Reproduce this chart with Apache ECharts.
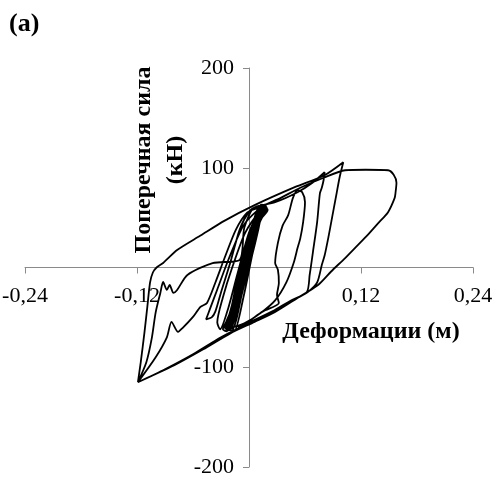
<!DOCTYPE html>
<html>
<head>
<meta charset="utf-8">
<script src="https://cdn.jsdelivr.net/npm/echarts@6/dist/echarts.min.js"></script>
<style>html,body{margin:0;padding:0;background:#fff}#c{width:497px;height:479px}</style>
</head>
<body>
<div id="c"></div>
<script>
// Axis ticks
var xTicks = [-0.24, -0.12, 0, 0.12, 0.24];
var yTicks = [-200, -100, 0, 100, 200];

// Hysteresis path segments: [deformation (m), shear force (kN)]
var centralLoops = [
  [0.000,0],
  [0.008,30],[0.012,50],[0.010,55],[0.004,40],[-0.006,0],[-0.014,-35],[-0.018,-50],[-0.015,-52],[-0.008,-25],[0.000,5],
  [0.008,38],[0.014,58],[0.011,60],[0.004,42],[-0.008,0],[-0.016,-38],[-0.022,-58],[-0.019,-60],[-0.010,-30],[0.000,5],
  [0.010,42],[0.016,60],[0.012,62],[0.003,40],[-0.010,-5],[-0.018,-42],[-0.024,-60],[-0.020,-62],[-0.012,-32],[-0.002,5],
  [0.008,40],[0.015,57],[0.012,59],[0.002,35],[-0.012,-10],[-0.020,-45],[-0.025,-58],[-0.021,-61],[-0.013,-35],[-0.003,0],
  [0.006,35],[0.013,55],[0.010,57],[0.000,30],[-0.011,-12],[-0.019,-48],[-0.023,-62],[-0.018,-63],[-0.010,-35],[0.000,5],
  [0.009,40],[0.017,58],[0.013,60],[0.004,38],[-0.007,0],[-0.017,-42],[-0.021,-60],[-0.017,-61],[-0.008,-28],[0.002,10],
  [0.010,45],[0.015,60],[0.011,61],[0.002,36],[-0.009,-5],[-0.018,-44],[-0.022,-58],[-0.019,-60],[-0.011,-33],[-0.001,5],
  [0.007,38],[0.014,56],[0.011,58],[0.001,32],[-0.010,-8],[-0.019,-46],[-0.023,-60],[-0.020,-61],[-0.012,-34],[-0.002,2],
  [0.012,48],[0.019,60],[0.015,62],[0.006,45],[-0.006,5],[-0.018,-40],[-0.026,-60],[-0.022,-63],[-0.012,-35],[0.000,5],
  [0.011,46],[0.020,58],[0.016,61],[0.006,40],[-0.005,0],[-0.015,-40],[-0.021,-62],[-0.016,-64],[-0.006,-30],[0.004,15],
  [0.013,50],[0.018,62],[0.013,63],[0.000,30],[-0.012,-15],[-0.022,-50],[-0.028,-62],[-0.024,-64],[-0.014,-38],[-0.003,0]
];
var wideLoops = [
  [0.010,48],[0.018,60],[0.013,58],[-0.004,35],[-0.018,0],[-0.028,-30],[-0.034,-55],[-0.031,-62],[-0.022,-40],[-0.012,-5],[0.000,35],[0.012,58],[0.016,60],
  [0.010,58],[-0.006,42],[-0.022,8],[-0.034,-22],[-0.042,-42],[-0.046,-52],[-0.040,-50],[-0.036,-44],[-0.030,-25],[-0.020,5],[-0.010,38],[0.000,56],[0.008,61]
];
var excursionA = [
  [0.028,65.5],[0.052,75.5],[0.068,85],[0.081,95.5],[0.080,88],[0.078,80],[0.076,74.5],[0.073,45.5],[0.0685,15.5],[0.065,-7.5],[0.062,-24.5],
  [0.045,-33],[0.025,-44],[0.005,-53],[-0.012,-60]
];
var reloadB = [
  [-0.002,-55],[0.015,-44],[0.032,-35.5],[0.030,-27.5],[0.032,-15.5],[0.031,-2.5],[0.028,4.5],[0.031,25],[0.036,42],[0.042,52.5],[0.047,69.5],
  [0.052,77.5],[0.057,75.5],[0.060,65.5],[0.058,45.5],[0.055,29.5],[0.052,19.5],[0.048,5],[0.040,-15],[0.028,-33],[0.012,-46],[-0.005,-56],[-0.018,-60]
];
var descentToLeft = [
  [-0.010,-30],[0.000,10],[0.008,45],[0.012,58],[0.006,60],[-0.005,40],[-0.010,7.5],[-0.039,4.5],[-0.066,-7.5],[-0.077,-22.5],[-0.081,-25.5],
  [-0.085,-17.5],[-0.088,-22.5],[-0.092,-14.5],[-0.095,-25.5],[-0.100,-45],[-0.104,-70],[-0.110,-95],[-0.119,-115]
];
var excursionC = [
  [-0.116,-95],[-0.112,-65],[-0.109,-40],[-0.106,-15],[-0.103,-5],[-0.099,0],[-0.092,4.5],[-0.077,17.5],[-0.052,32],[-0.026,47],[0.006,62.5],
  [0.049,80.5],[0.081,92.5],[0.101,105.5],[0.097,90],[0.093,70],[0.089,50],[0.085,30],[0.081,12],[0.078,2.5],[0.073,-15],[0.063,-24.5],
  [0.045,-34],[0.020,-47],[-0.005,-58],[-0.030,-70],[-0.060,-87],[-0.090,-102],[-0.119,-115]
];
var bigLoop = [
  [-0.100,-90],[-0.088,-70],[-0.083,-54.5],[-0.076,-64.5],[-0.071,-60.5],[-0.060,-49.5],[-0.052,-39.5],[-0.045,-35.5],[-0.036,-15],[-0.026,10],
  [-0.014,38],[-0.002,55],[0.010,60],[0.030,68],[0.055,80],[0.080,90],[0.103,97.5],[0.125,98],[0.149,97.5],[0.155,93],[0.158,85],[0.157,75],
  [0.156,69.5],[0.149,55.5],[0.138,44],[0.127,32.5],[0.115,21],[0.103,9.5],[0.088,-4],[0.074,-17.5],[0.052,-30.5],[0.028,-44.5],[0.006,-54.5],
  [-0.020,-66],[-0.049,-82],[-0.080,-98],[-0.105,-109],[-0.119,-115]
];

var path = [].concat(centralLoops, wideLoops, excursionA, reloadB, descentToLeft, excursionC, bigLoop);

var serif = "'Liberation Serif','Times New Roman',serif";
var G = {left: 25, right: 24, top: 68, bottom: 12, W: 497, H: 479};
var gw = G.W - G.left - G.right, gh = G.H - G.top - G.bottom;
var chart = echarts.init(document.getElementById('c'), null, {renderer: 'canvas'});
chart.setOption({
  animation: false,
  backgroundColor: '#fff',
  grid: {left: G.left, right: G.right, top: G.top, bottom: G.bottom, containLabel: false, outerBoundsMode: 'none'},
  xAxis: {
    type: 'value', min: xTicks[0], max: xTicks[xTicks.length - 1], interval: 0.12,
    position: 'bottom', offset: -gh / 2,
    axisLine: {onZero: false, lineStyle: {color: '#8a8a8a', width: 1}},
    axisTick: {show: true, inside: false, length: 6, lineStyle: {color: '#8a8a8a'}},
    splitLine: {show: false},
    axisLabel: {
      margin: 18, color: '#000', fontFamily: serif, fontSize: 22, hideOverlap: false,
      formatter: function (v) { return Math.abs(v) < 1e-9 ? '' : v.toFixed(2).replace('.', ','); }
    }
  },
  yAxis: {
    type: 'value', min: yTicks[0], max: yTicks[yTicks.length - 1], interval: 100,
    position: 'left', offset: -gw / 2,
    axisLine: {onZero: false, lineStyle: {color: '#8a8a8a', width: 1}},
    axisTick: {show: true, inside: false, length: 6, lineStyle: {color: '#8a8a8a'}},
    splitLine: {show: false},
    axisLabel: {
      margin: 15, color: '#000', fontFamily: serif, fontSize: 22, hideOverlap: false,
      formatter: function (v) { return v === 0 ? '' : String(v); }
    }
  },
  graphic: [
    {type: 'text', left: 9, top: 11, style: {text: '(a)', font: 'bold 26px ' + serif, fill: '#000'}},
    {type: 'text', x: 160, y: 160, rotation: Math.PI / 2,
      style: {text: 'Поперечная сила\n(кН)', font: 'bold 24px ' + serif, fill: '#000', align: 'center', verticalAlign: 'middle', lineHeight: 32}},
    {type: 'text', x: 371, y: 332, style: {text: 'Деформации (м)', font: 'bold 24px ' + serif, fill: '#000', align: 'center', verticalAlign: 'middle'}}
  ],
  series: [{
    type: 'line', data: path, showSymbol: false, smooth: 0.25,
    lineStyle: {color: '#000', width: 1.8}, clip: false
  }]
});
</script>
</body>
</html>
